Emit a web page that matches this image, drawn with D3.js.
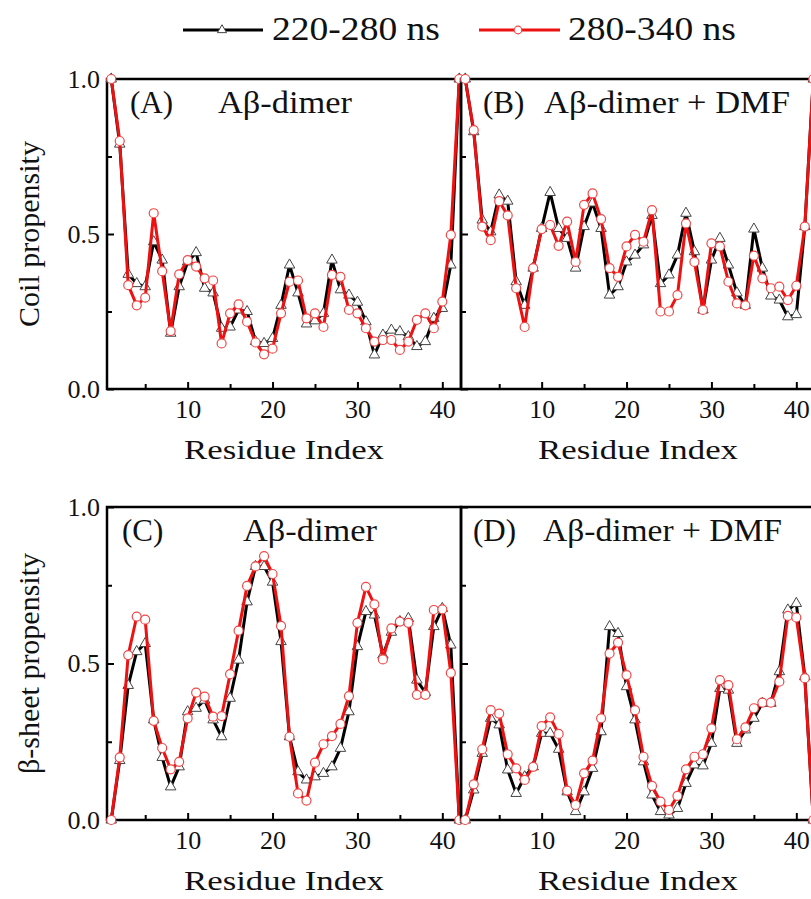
<!DOCTYPE html>
<html>
<head>
<meta charset="utf-8">
<script src="https://cdn.jsdelivr.net/npm/d3@7"></script>
<style>
  body { margin: 0; background: #fff; }
  svg text { font-family: "Liberation Serif", "Times New Roman", serif; fill: #111; }
</style>
</head>
<body>
<div id="chart"></div>
<script>
// residue numbers (x categories)
const residues = [1,2,3,4,5,6,7,8,9,10,11,12,13,14,15,16,17,18,19,20,21,
                  22,23,24,25,26,27,28,29,30,31,32,33,34,35,36,37,38,39,40,41,42];

const seriesNames = ["220-280 ns", "280-340 ns"];

// coil propensity, Aβ-dimer
const coilDimer220 = [1.0,0.79,0.37,0.34,0.33,0.475,0.416,0.18,0.33,0.41,0.44,0.325,0.31,0.196,0.20,0.255,0.25,0.153,0.147,0.163,0.27,
                      0.40,0.31,0.21,0.22,0.244,0.416,0.32,0.303,0.28,0.217,0.11,0.174,0.19,0.185,0.169,0.137,0.153,0.228,0.26,0.40,1.0];
const coilDimer280 = [1.0,0.80,0.335,0.27,0.295,0.567,0.38,0.187,0.37,0.416,0.395,0.357,0.35,0.147,0.244,0.273,0.217,0.15,0.112,0.13,0.244,
                      0.346,0.35,0.228,0.244,0.20,0.368,0.362,0.255,0.244,0.196,0.153,0.158,0.158,0.126,0.153,0.223,0.244,0.196,0.282,0.497,1.0];
// coil propensity, Aβ-dimer + DMF
const coilDmf220 = [1.0,0.83,0.545,0.507,0.626,0.606,0.346,0.27,0.39,0.518,0.634,0.518,0.486,0.39,0.524,0.60,0.518,0.303,0.33,0.41,0.432,
                    0.465,0.56,0.34,0.368,0.432,0.567,0.443,0.255,0.416,0.486,0.40,0.31,0.27,0.516,0.39,0.30,0.287,0.233,0.24,0.524,1.0];
const coilDmf280 = [1.0,0.835,0.524,0.48,0.606,0.56,0.325,0.20,0.39,0.516,0.529,0.462,0.54,0.41,0.594,0.631,0.548,0.39,0.362,0.46,0.497,
                    0.475,0.577,0.25,0.25,0.303,0.534,0.41,0.255,0.47,0.46,0.346,0.276,0.27,0.43,0.357,0.325,0.33,0.287,0.333,0.524,1.0];
// β-sheet propensity, Aβ-dimer
const sheetDimer220 = [0,0.19,0.43,0.538,0.564,0.32,0.20,0.106,0.17,0.346,0.357,0.383,0.32,0.266,0.389,0.511,0.697,0.81,0.81,0.76,0.57,
                       0.266,0.154,0.128,0.138,0.149,0.17,0.229,0.346,0.554,0.666,0.655,0.527,0.60,0.634,0.644,0.447,0.407,0.618,0.676,0.559,0];
const sheetDimer280 = [0,0.20,0.527,0.65,0.64,0.317,0.23,0.162,0.186,0.325,0.407,0.394,0.33,0.332,0.466,0.605,0.748,0.81,0.843,0.786,0.62,
                       0.266,0.085,0.062,0.183,0.242,0.268,0.307,0.396,0.63,0.745,0.689,0.513,0.612,0.634,0.63,0.40,0.40,0.671,0.673,0.47,0];
// β-sheet propensity, Aβ-dimer + DMF
const sheetDmf220 = [0,0.096,0.213,0.325,0.304,0.16,0.085,0.138,0.17,0.277,0.277,0.226,0.09,0.027,0.09,0.165,0.282,0.618,0.596,0.426,0.32,
                     0.186,0.08,0.027,0.016,0.037,0.117,0.176,0.173,0.245,0.42,0.415,0.245,0.288,0.325,0.373,0.373,0.474,0.671,0.692,0.458,0];
const sheetDmf280 = [0,0.114,0.226,0.351,0.34,0.21,0.165,0.128,0.17,0.30,0.328,0.275,0.094,0.048,0.149,0.19,0.325,0.532,0.567,0.463,0.351,
                     0.202,0.109,0.059,0.032,0.077,0.162,0.202,0.21,0.293,0.447,0.431,0.258,0.296,0.357,0.375,0.375,0.442,0.652,0.647,0.453,0];

const xMajorTicks = [10, 20, 30, 40];
const xMinorTicks = [5, 15, 25, 35];
const yMajorTicks = [0, 0.5, 1.0];
const yMinorTicks = [0.25, 0.75];
const yTitles = ["Coil propensity", "β-sheet propensity"];

const panels = [
  { tag: "(A)", name: "Aβ-dimer",       row: 0, col: 0, a: coilDimer220,  b: coilDimer280 },
  { tag: "(B)", name: "Aβ-dimer + DMF", row: 0, col: 1, a: coilDmf220,    b: coilDmf280 },
  { tag: "(C)", name: "Aβ-dimer",       row: 1, col: 0, a: sheetDimer220, b: sheetDimer280 },
  { tag: "(D)", name: "Aβ-dimer + DMF", row: 1, col: 1, a: sheetDmf220,   b: sheetDmf280 }
];

// layout
const W = 811, H = 899;
const colX = [107, 461], panelW = 354;
const rowY = [79, 507], rowH = [310, 313];
const tagPos = [[130, 113], [483, 113], [122, 541], [473, 541]];
const namePos = [[218, 134], [544, 246], [243, 134], [543, 239]];
const black = "#000", red = "#ee1111";

const svg = d3.select("#chart").append("svg")
    .attr("width", W).attr("height", H)
    .attr("viewBox", `0 0 ${W} ${H}`);

const tri = d3.symbol().type(d3.symbolTriangle);

function stretched(g, str, x, y, size, len) {
    const t = g.append("text").attr("x", x).attr("y", y)
        .style("font-size", size + "px").text(str);
    if (len) t.attr("textLength", len).attr("lengthAdjust", "spacingAndGlyphs");
    return t;
}

panels.forEach((p, i) => {
    const x0 = colX[p.col], y0 = rowY[p.row], h = rowH[p.row];
    const x = d3.scaleLinear().domain([0.5, 42.2]).range([x0, x0 + panelW]);
    const y = d3.scaleLinear().domain([0, 1]).range([y0 + h, y0]);
    const g = svg.append("g");

    // bottom axis (ticks point inward)
    g.append("g").attr("transform", `translate(0,${y0 + h})`)
        .call(d3.axisBottom(x).tickValues(xMajorTicks).tickSize(-7).tickPadding(10.5))
        .call(s => s.select(".domain").remove())
        .call(s => s.selectAll("line").attr("stroke", black).attr("stroke-width", 2))
        .call(s => s.selectAll("text").style("font-size", "26px").attr("fill", "#111")
            .style("font-family", '"Liberation Serif","Times New Roman",serif'));
    g.append("g").attr("transform", `translate(0,${y0 + h})`)
        .call(d3.axisBottom(x).tickValues(xMinorTicks).tickSize(-5).tickFormat(""))
        .call(s => s.select(".domain").remove())
        .call(s => s.selectAll("line").attr("stroke", black).attr("stroke-width", 2));

    // left axis
    g.append("g").attr("transform", `translate(${x0},0)`)
        .call(d3.axisLeft(y).tickValues(yMajorTicks).tickSize(-7).tickPadding(7)
            .tickFormat(p.col === 0 ? d3.format(".1f") : ""))
        .call(s => s.select(".domain").remove())
        .call(s => s.selectAll("line").attr("stroke", black).attr("stroke-width", 2))
        .call(s => s.selectAll("text").style("font-size", "26px").attr("fill", "#111")
            .style("font-family", '"Liberation Serif","Times New Roman",serif'));
    g.append("g").attr("transform", `translate(${x0},0)`)
        .call(d3.axisLeft(y).tickValues(yMinorTicks).tickSize(-5).tickFormat(""))
        .call(s => s.select(".domain").remove())
        .call(s => s.selectAll("line").attr("stroke", black).attr("stroke-width", 2));

    // frame
    g.append("rect")
        .attr("x", x0).attr("y", y0).attr("width", panelW).attr("height", h)
        .attr("fill", "none").attr("stroke", black).attr("stroke-width", 2.5);

    // axis title
    stretched(g, "Residue Index", x0 + panelW / 2, y0 + h + 70, 28, 200)
        .attr("text-anchor", "middle");

    // panel labels
    stretched(g, p.tag, tagPos[i][0], tagPos[i][1], 31);
    stretched(g, p.name, namePos[i][0], tagPos[i][1], 31, namePos[i][1]);

    const line = d3.line().x((d, k) => x(residues[k])).y(d => y(d));

    // 220-280 ns: black with open triangles
    g.append("path").datum(p.a)
        .attr("d", line).attr("fill", "none")
        .attr("stroke", black).attr("stroke-width", 3).attr("stroke-linejoin", "round");
    g.selectAll(".tri").data(p.a).join("path")
        .attr("class", "tri")
        .attr("d", tri.size(48))
        .attr("transform", (d, k) => `translate(${x(residues[k])},${y(d)})`)
        .attr("fill", "#fff").attr("stroke", "#444").attr("stroke-width", 1);

    // 280-340 ns: red with open circles
    g.append("path").datum(p.b)
        .attr("d", line).attr("fill", "none")
        .attr("stroke", red).attr("stroke-width", 3).attr("stroke-linejoin", "round");
    g.selectAll(".circ").data(p.b).join("circle")
        .attr("class", "circ")
        .attr("cx", (d, k) => x(residues[k])).attr("cy", d => y(d)).attr("r", 4.5)
        .attr("fill", "#fff").attr("stroke", "#f04848").attr("stroke-width", 1.2);
});

// y axis titles
yTitles.forEach((t, r) => {
    svg.append("text")
        .attr("transform", `translate(39,${rowY[r] + rowH[r] / 2}) rotate(-90)`)
        .attr("text-anchor", "middle")
        .style("font-size", "30px")
        .text(t);
});

// legend
const legend = svg.append("g");
const legendItems = [
    { name: seriesNames[0], x1: 183, x2: 263, mx: 222, tx: 272, color: black, mark: "tri" },
    { name: seriesNames[1], x1: 479, x2: 560, mx: 518, tx: 568, color: red, mark: "circ" }
];
legendItems.forEach(d => {
    legend.append("line").attr("x1", d.x1).attr("x2", d.x2).attr("y1", 30).attr("y2", 30)
        .attr("stroke", d.color).attr("stroke-width", 3);
    if (d.mark === "tri") {
        legend.append("path").attr("d", tri.size(36)())
            .attr("transform", `translate(${d.mx},30)`)
            .attr("fill", "#fff").attr("stroke", "#444").attr("stroke-width", 1);
    } else {
        legend.append("circle").attr("cx", d.mx).attr("cy", 30).attr("r", 3.8)
            .attr("fill", "#fff").attr("stroke", "#f04848").attr("stroke-width", 1.2);
    }
    stretched(legend, d.name, d.tx, 40, 34, 168);
});
</script>
</body>
</html>
